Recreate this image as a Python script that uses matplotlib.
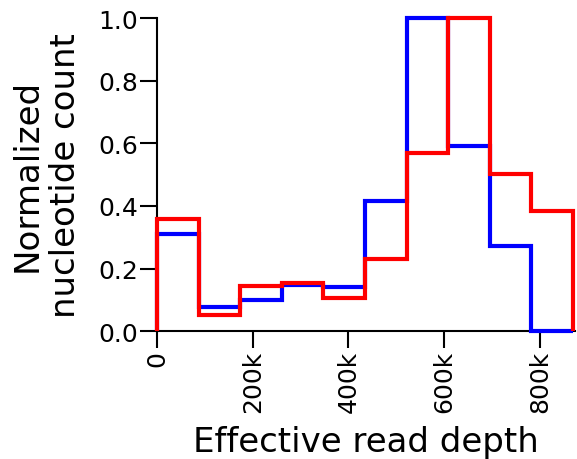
import matplotlib.pyplot as plt
import numpy as np
from matplotlib.ticker import FuncFormatter

# bin edges of the read depth histogram (10 bins)
edges = [0, 86900, 173800, 260700, 347600, 434500, 521400, 608300, 695200, 782100, 869000]

# normalized counts per bin
blue_counts = [0.309, 0.078, 0.101, 0.149, 0.142, 0.416, 1.0, 0.592, 0.272, 0.0]
red_counts = [0.357, 0.053, 0.144, 0.155, 0.107, 0.229, 0.570, 1.0, 0.503, 0.384]

xticks = [0, 200000, 400000, 600000, 800000]
yticks = [0.0, 0.2, 0.4, 0.6, 0.8, 1.0]

fig, ax = plt.subplots(figsize=(5.77, 4.60), dpi=100)
fig.subplots_adjust(left=0.272, right=0.9965, top=0.958, bottom=0.278)

ax.stairs(blue_counts, edges, color='blue', linewidth=3, clip_on=False, zorder=3)
ax.stairs(red_counts, edges, color='red', linewidth=3, clip_on=False, zorder=4)

ax.set_xlim(0, 873000)
ax.set_ylim(0, 1.0)
ax.set_xticks(xticks)
ax.set_yticks(yticks)
ax.xaxis.set_major_formatter(FuncFormatter(lambda v, p: '0' if v == 0 else f'{int(v / 1000)}k'))
ax.yaxis.set_major_formatter(FuncFormatter(lambda v, p: f'{v:.1f}'))

for side in ['top', 'right']:
    ax.spines[side].set_visible(False)
for side in ['left', 'bottom']:
    ax.spines[side].set_linewidth(1.5)

ax.tick_params(axis='both', labelsize=18, width=1.5, length=12.5, pad=1)
ax.tick_params(axis='x', labelrotation=90)

ax.set_xlabel('Effective read depth', fontsize=24.5, labelpad=9)
ax.set_ylabel('Normalized\nnucleotide count', fontsize=24.5, labelpad=12)

fig.savefig('out.png', dpi=100)
